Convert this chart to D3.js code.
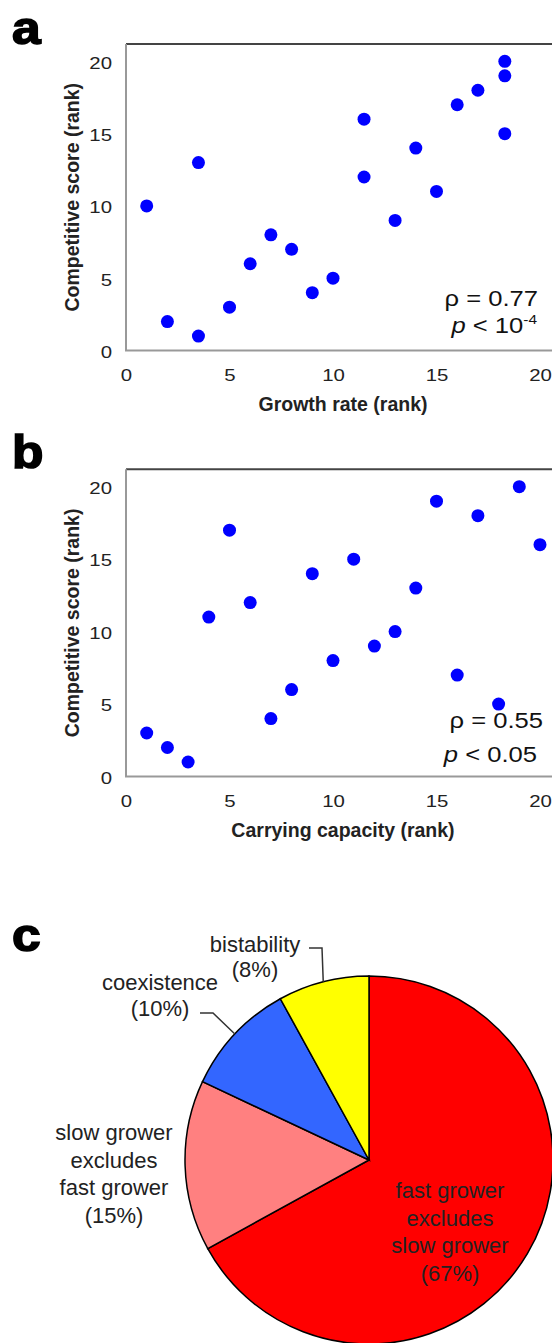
<!DOCTYPE html>
<html>
<head>
<meta charset="utf-8">
<script src="https://cdn.jsdelivr.net/npm/d3@7"></script>
<style>
  body { margin: 0; background: #fff; }
  svg { display: block; font-family: "Liberation Sans", Arial, Helvetica, sans-serif; }
</style>
</head>
<body>
<div class="fig"></div>
<script>
// panel a: growth rate rank vs competitive score rank
const growthRank = [18.3, 18.3, 17, 16, 11.5, 18.3, 14, 3.5, 11.5, 15, 1, 13, 7, 8, 6, 10, 9, 5, 2, 3.5]
const scoreA = [20, 19, 18, 17, 16, 15, 14, 13, 12, 11, 10, 9, 8, 7, 6, 5, 4, 3, 2, 1]
// panel b: carrying capacity rank vs competitive score rank
const capacityRank = [19, 15, 17, 5, 20, 11, 9, 14, 6, 4, 13, 12, 10, 16, 8, 18, 7, 1, 2, 3]
const scoreB = [20, 19, 18, 17, 16, 15, 14, 13, 12, 11, 10, 9, 8, 7, 6, 5, 4, 3, 2, 1]
const rankTicks = [0, 5, 10, 15, 20]
// panel c: outcomes of pairwise competition
const outcomeLines = [
  ["fast grower", "excludes", "slow grower"],
  ["slow grower", "excludes", "fast grower"],
  ["coexistence"],
  ["bistability"]
]
const outcomeShare = [67, 15, 10, 8]
const outcomeColors = ["#ff0000", "#ff8080", "#3366ff", "#ffff00"]

const W = 552, H = 1343
const sx = 1.2   // lettering in a and b is set wide
const ink = "#222"

const svg = d3.select(".fig").append("svg").attr("width", W).attr("height", H)

function panelLetter(letter, y){
  svg.append("text").attr("transform", `translate(12,${y}) scale(1.12,1)`)
    .attr("font-size", 46).attr("font-weight", "bold").attr("stroke", "#000").attr("stroke-width", 1.6)
    .text(letter)
}

function scatter(opt){
  const xScale = d3.scaleLinear().domain([0, 20]).range([126, 540])
  const yScale = d3.scaleLinear().domain([0, 21.2]).range([opt.bottom, opt.top])
  const g = svg.append("g")

  // frame (right side runs off the page)
  g.append("line").attr("x1", xScale(0)).attr("x2", W + 10).attr("y1", opt.top).attr("y2", opt.top)
    .attr("stroke", "#444").attr("stroke-width", 2)
  g.append("line").attr("x1", xScale(0)).attr("x2", xScale(0)).attr("y1", opt.top).attr("y2", opt.bottom)
    .attr("stroke", "#999").attr("stroke-width", 2)
  g.append("line").attr("x1", xScale(0) - 1).attr("x2", W + 10).attr("y1", opt.bottom).attr("y2", opt.bottom)
    .attr("stroke", "#999").attr("stroke-width", 2)

  g.append("g").attr("transform", `translate(0,${opt.bottom})`)
    .call(d3.axisBottom(xScale).tickValues(rankTicks).tickSize(0))
    .call(a => {
      a.attr("font-size", 17).attr("font-family", null)
      a.select(".domain").remove()
      a.selectAll("text").attr("y", 25).attr("dy", "0.35em").attr("fill", ink)
        .attr("transform", `scale(${sx},1)`)
    })

  g.append("g").attr("transform", `translate(${xScale(0)},0)`)
    .call(d3.axisLeft(yScale).tickValues(rankTicks).tickSize(0))
    .call(a => {
      a.attr("font-size", 17).attr("font-family", null)
      a.select(".domain").remove()
      a.selectAll("text").attr("x", -14 / sx).attr("dy", "0.4em").attr("fill", ink)
        .attr("transform", `scale(${sx},1)`)
    })

  g.selectAll("circle")
    .data(d3.zip(opt.xs, opt.ys))
    .join("circle")
    .attr("cx", d => xScale(d[0]))
    .attr("cy", d => yScale(d[1]))
    .attr("r", 6.5)
    .attr("fill", "#0000ff")

  g.append("text")
    .attr("transform", `translate(79,${(opt.top + opt.bottom) / 2}) rotate(-90)`)
    .attr("text-anchor", "middle").attr("font-weight", "bold").attr("font-size", 19.5).attr("fill", ink)
    .text("Competitive score (rank)")

  g.append("text")
    .attr("x", 343).attr("y", opt.bottom + 60)
    .attr("text-anchor", "middle").attr("font-weight", "bold").attr("font-size", 19.5).attr("fill", ink)
    .text(opt.xTitle)

  // statistics
  g.append("text")
    .attr("transform", `translate(${opt.rhoX},${opt.rhoY}) scale(1.19,1)`)
    .attr("text-anchor", "end").attr("font-size", 21.5).attr("fill", "#111")
    .text(`ρ = ${opt.rho}`)
  const pt = g.append("text")
    .attr("transform", `translate(${opt.pX},${opt.pY}) scale(1.19,1)`)
    .attr("text-anchor", "end").attr("font-size", 21.5).attr("fill", "#111")
  pt.append("tspan").attr("font-style", "italic").text("p")
  pt.append("tspan").text(` < ${opt.p}`)
  if (opt.pExp) pt.append("tspan").attr("font-size", 13).attr("dy", -9).text(opt.pExp)

  panelLetter(opt.letter, opt.letterY)
}

scatter({letter: "a", letterY: 44, top: 44, bottom: 350.5, xs: growthRank, ys: scoreA,
  xTitle: "Growth rate (rank)", rho: "0.77", rhoX: 538, rhoY: 306, p: "10", pExp: "-4", pX: 537, pY: 333})
scatter({letter: "b", letterY: 468, top: 469.3, bottom: 776.5, xs: capacityRank, ys: scoreB,
  xTitle: "Carrying capacity (rank)", rho: "0.55", rhoX: 543, rhoY: 727.7, p: "0.05", pX: 537, pY: 761.7})

// panel c
panelLetter("c", 951)

const R = 184
const slices = d3.pie().sort(null)(outcomeShare)
const arc = d3.arc().innerRadius(0).outerRadius(R)
const pg = svg.append("g").attr("transform", "translate(369,1160)")

pg.selectAll("path")
  .data(slices)
  .join("path")
  .attr("d", arc)
  .attr("fill", (d, i) => outcomeColors[i])
  .attr("stroke", "#000")
  .attr("stroke-width", 1.5)

// label anchors relative to pie centre, line step
const labelPos = [[81, 38, 27.5], [-255, -20, 27.5], [-209, -170, 26], [-114, -208, 24.5]]
// elbows of the leader lines for the small slices
const leaders = {2: [[-156, -147], [-169, -147]], 3: [[-47, -212], [-60, -212]]}

slices.forEach((s, i) => {
  const [lx, ly, step] = labelPos[i]
  const lines = outcomeLines[i].concat([`(${outcomeShare[i]}%)`])
  const t = pg.append("text").attr("text-anchor", "middle").attr("font-size", 22).attr("fill", ink)
  lines.forEach((ln, j) => {
    t.append("tspan").attr("x", lx).attr("y", ly + j * step).text(ln)
  })
  if (leaders[i]) {
    const mid = (s.startAngle + s.endAngle) / 2
    const edge = [R * Math.sin(mid), -R * Math.cos(mid)]
    pg.append("path")
      .attr("d", d3.line()([edge].concat(leaders[i])))
      .attr("fill", "none").attr("stroke", "#333").attr("stroke-width", 1.5)
  }
})
</script>
</body>
</html>
